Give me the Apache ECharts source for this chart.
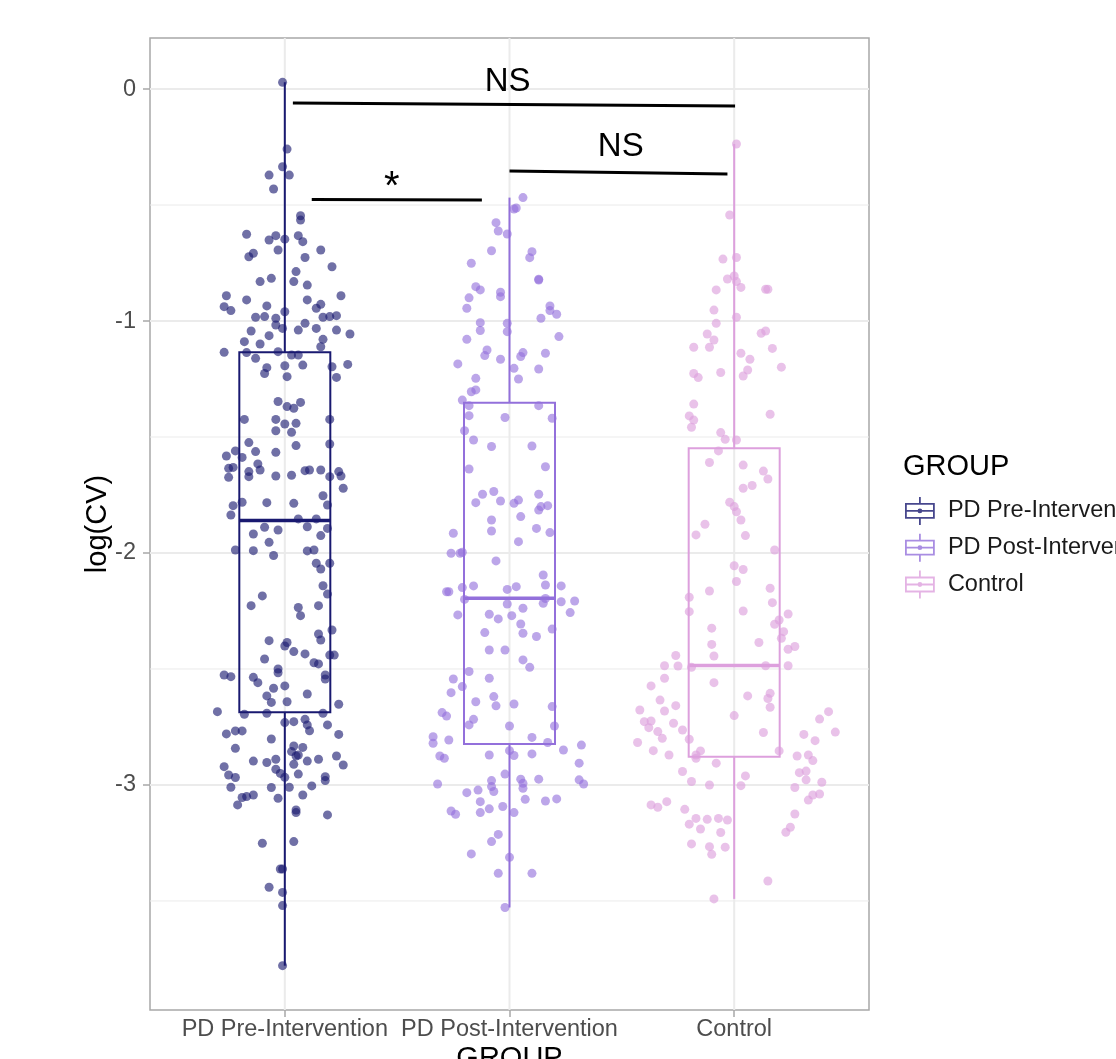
<!DOCTYPE html>
<html>
<head>
<meta charset="utf-8">
<script src="https://cdn.jsdelivr.net/npm/echarts@6/dist/echarts.min.js"></script>
<style>
html,body{margin:0;padding:0;background:#fff;}
#chart{width:1116px;height:1059px;}
</style>
</head>
<body>
<div id="chart"></div>
<script>
// ---------- DATA ----------
const categories = ['PD Pre-Intervention', 'PD Post-Intervention', 'Control'];
const yTickValues = [-3, -2, -1, 0];
const yTickLabels = ['-3', '-2', '-1', '0'];
const xTickValues = [1, 2, 3];

// box statistics: [lower whisker, Q1, median, Q3, upper whisker]
const preBox = [-3.779, -2.687, -1.860, -1.135, 0.029];
const postBox = [-3.528, -2.823, -2.195, -1.352, -0.468];
const controlBox = [-3.491, -2.878, -2.485, -1.549, -0.237];

// jittered points: [horizontal jitter (category units), log(CV)]
const prePoints = [
[-0.01,0.029],[0.01,-0.259],[-0.01,-0.335],[0.02,-0.371],[-0.07,-0.371],[-0.05,-0.431],[0.07,-0.546],[0.07,-0.565],
[-0.17,-0.626],[-0.07,-0.651],[-0.04,-0.632],[0.00,-0.647],[0.06,-0.632],[0.08,-0.658],[0.16,-0.694],[-0.16,-0.723],
[-0.14,-0.708],[-0.03,-0.694],[0.09,-0.726],[0.21,-0.766],[0.05,-0.787],[-0.06,-0.816],[-0.11,-0.830],[0.04,-0.830],
[0.10,-0.845],[-0.26,-0.891],[-0.17,-0.909],[0.25,-0.891],[0.10,-0.909],[-0.27,-0.938],[-0.24,-0.955],[-0.08,-0.935],
[0.16,-0.928],[0.14,-0.945],[0.00,-0.960],[-0.13,-0.984],[-0.09,-0.981],[-0.04,-0.988],[0.17,-0.984],[0.20,-0.981],
[0.23,-0.977],[0.09,-1.010],[-0.04,-1.017],[-0.15,-1.043],[-0.01,-1.032],[0.06,-1.039],[0.14,-1.032],[0.23,-1.039],
[0.29,-1.056],[-0.18,-1.089],[-0.07,-1.063],[-0.11,-1.099],[0.17,-1.079],[0.16,-1.111],[-0.27,-1.135],[-0.17,-1.136],
[-0.03,-1.132],[0.03,-1.147],[0.06,-1.147],[-0.13,-1.161],[-0.08,-1.201],[0.00,-1.193],[0.08,-1.190],[0.21,-1.197],
[0.28,-1.187],
[-0.09,-1.226],[0.01,-1.240],[0.23,-1.243],[-0.03,-1.347],[0.01,-1.369],[0.04,-1.376],[0.07,-1.351],[-0.18,-1.424],
[-0.04,-1.424],[0.00,-1.444],[0.05,-1.441],[-0.04,-1.473],[0.03,-1.480],[0.20,-1.424],[-0.16,-1.524],[0.05,-1.537],
[0.20,-1.530],[-0.22,-1.560],[-0.13,-1.563],[-0.04,-1.566],[-0.26,-1.582],[-0.19,-1.588],[-0.12,-1.616],[-0.25,-1.635],
[-0.23,-1.631],[-0.11,-1.642],[-0.16,-1.649],[-0.16,-1.671],[-0.25,-1.674],[-0.04,-1.668],[0.03,-1.665],[0.09,-1.645],
[0.11,-1.642],[0.16,-1.642],[0.20,-1.671],[0.24,-1.649],[0.25,-1.668],[0.26,-1.721],[0.17,-1.753],[-0.23,-1.796],
[-0.19,-1.781],[-0.08,-1.783],[0.04,-1.786],[0.19,-1.793],[-0.24,-1.836],[0.06,-1.853],[0.14,-1.853],[0.10,-1.887],
[0.19,-1.894],[-0.09,-1.889],[-0.03,-1.901],[-0.14,-1.918],[0.16,-1.925],[-0.07,-1.954],[-0.22,-1.987],[-0.14,-1.990],
[-0.05,-2.011],[0.10,-1.991],[0.13,-1.987],[0.14,-2.044],[0.16,-2.069],[0.20,-2.044],[0.17,-2.141],[0.19,-2.177],
[-0.10,-2.185],[-0.15,-2.227],[0.06,-2.235],[0.07,-2.270],[0.15,-2.227],[0.21,-2.332],[0.15,-2.349],[0.16,-2.375],
[-0.07,-2.378],[0.00,-2.401],[0.01,-2.386],[0.04,-2.425],[0.09,-2.435],[-0.09,-2.457],[0.13,-2.473],[0.15,-2.478],
[0.20,-2.440],[0.22,-2.440],[-0.03,-2.500],
[-0.27,-2.526],[-0.24,-2.533],[-0.14,-2.536],[-0.12,-2.559],[-0.03,-2.516],[0.18,-2.526],[0.18,-2.543],[0.00,-2.573],
[-0.05,-2.583],[-0.08,-2.616],[-0.06,-2.644],[0.01,-2.641],[0.10,-2.608],[0.24,-2.652],[-0.30,-2.684],[-0.18,-2.695],
[-0.08,-2.691],[0.17,-2.691],[0.00,-2.731],[0.04,-2.727],[0.09,-2.717],[0.11,-2.766],[0.10,-2.741],[0.19,-2.741],
[-0.26,-2.780],[-0.22,-2.767],[-0.19,-2.767],[0.24,-2.782],[-0.06,-2.802],[-0.22,-2.842],[0.04,-2.832],[0.08,-2.838],
[0.03,-2.856],[0.05,-2.875],[0.06,-2.871],[-0.04,-2.889],[-0.08,-2.903],[-0.14,-2.897],[0.10,-2.897],[0.15,-2.889],
[0.23,-2.875],[0.26,-2.914],[0.04,-2.911],[-0.27,-2.921],[-0.04,-2.932],[-0.25,-2.957],[-0.22,-2.968],[-0.02,-2.950],
[0.06,-2.953],[0.00,-2.967],[0.18,-2.964],[0.18,-2.981],[-0.24,-3.010],[-0.06,-3.011],[0.02,-3.010],[0.12,-3.004],
[-0.17,-3.050],[-0.14,-3.043],[-0.19,-3.054],[-0.21,-3.086],[-0.03,-3.057],[0.08,-3.043],[0.05,-3.108],[0.05,-3.119],
[0.19,-3.129],[-0.10,-3.251],[0.04,-3.244],[-0.02,-3.362],[-0.01,-3.362],[-0.07,-3.441],[-0.01,-3.463],[-0.01,-3.520],
[-0.01,-3.779]
];

const postPoints = [
[0.06,-0.468],[0.02,-0.517],[0.03,-0.513],[-0.06,-0.576],[-0.05,-0.612],[-0.01,-0.625],[-0.08,-0.697],[-0.17,-0.751],
[0.10,-0.701],[0.09,-0.727],[0.13,-0.820],[0.13,-0.823],[-0.15,-0.852],[-0.13,-0.866],[-0.18,-0.900],[-0.04,-0.876],
[-0.04,-0.895],[-0.19,-0.945],[0.18,-0.935],[0.18,-0.955],[0.21,-0.971],[0.14,-0.988],[-0.13,-1.007],[-0.13,-1.041],
[-0.01,-1.010],[-0.01,-1.046],[-0.19,-1.079],[0.22,-1.067],[-0.10,-1.125],[-0.11,-1.149],[-0.04,-1.165],[0.06,-1.136],
[0.05,-1.153],[0.16,-1.139],[-0.23,-1.185],[0.13,-1.207],[0.02,-1.204],[0.04,-1.250],[-0.15,-1.247],[-0.17,-1.305],
[-0.15,-1.297],[-0.21,-1.341],[-0.18,-1.365],[-0.18,-1.408],[0.13,-1.365],[-0.02,-1.416],[0.19,-1.419],[-0.20,-1.473],
[-0.16,-1.513],[-0.08,-1.541],[0.10,-1.539],
[-0.18,-1.638],[0.16,-1.628],[-0.12,-1.747],[-0.15,-1.783],[-0.07,-1.735],[-0.04,-1.776],[0.02,-1.786],[0.04,-1.772],
[0.13,-1.747],[0.13,-1.815],[0.14,-1.800],[0.17,-1.796],[0.05,-1.843],[-0.08,-1.858],[-0.08,-1.905],[0.12,-1.894],
[0.18,-1.912],[-0.25,-1.915],[0.04,-1.951],[-0.26,-2.001],[-0.22,-2.001],[-0.21,-1.997],[-0.06,-2.034],[0.15,-2.095],
[0.16,-2.138],[0.23,-2.142],[-0.28,-2.167],[-0.27,-2.167],[-0.21,-2.149],[-0.16,-2.142],[-0.01,-2.157],[0.03,-2.145],
[-0.20,-2.200],[0.16,-2.196],[-0.01,-2.220],[0.06,-2.238],[0.15,-2.217],[0.23,-2.210],[0.29,-2.207],[0.27,-2.257],
[-0.23,-2.267],[-0.09,-2.264],[-0.05,-2.284],[0.01,-2.270],[0.05,-2.306],[0.06,-2.346],[-0.11,-2.343],[0.12,-2.360],
[0.19,-2.328],[-0.09,-2.418],[-0.02,-2.418],[0.06,-2.461],[0.09,-2.493],[-0.18,-2.511],[-0.25,-2.543],[-0.09,-2.540],
[-0.21,-2.576],[-0.26,-2.602],[-0.15,-2.641],[-0.07,-2.619],[-0.06,-2.659],[0.02,-2.651],[0.19,-2.662],[-0.30,-2.688],
[-0.28,-2.703],[-0.16,-2.717],[-0.18,-2.741],[0.00,-2.746],[0.20,-2.746],
[-0.34,-2.792],[-0.34,-2.820],[-0.27,-2.806],[0.10,-2.795],[0.17,-2.817],[0.24,-2.849],[0.32,-2.828],[-0.31,-2.875],
[-0.29,-2.885],[-0.09,-2.871],[0.00,-2.852],[0.02,-2.873],[0.10,-2.866],[0.31,-2.906],[-0.32,-2.996],[-0.02,-2.953],
[-0.08,-2.981],[-0.08,-3.007],[-0.07,-3.028],[0.05,-2.975],[0.06,-2.993],[0.06,-3.014],[0.13,-2.975],[0.31,-2.978],
[0.33,-2.996],[-0.19,-3.033],[-0.14,-3.022],[-0.13,-3.072],[0.07,-3.062],[0.16,-3.069],[0.21,-3.060],[-0.26,-3.112],
[-0.24,-3.126],[-0.13,-3.119],[-0.09,-3.103],[-0.03,-3.093],[0.02,-3.119],[-0.05,-3.213],[-0.08,-3.244],[-0.17,-3.297],
[0.00,-3.312],[-0.05,-3.381],[0.10,-3.381],[-0.02,-3.528]
];

const controlPoints = [
[0.01,-0.237],[-0.02,-0.543],[-0.05,-0.733],[0.01,-0.726],[-0.03,-0.819],[0.00,-0.806],[0.01,-0.830],[0.03,-0.855],
[-0.08,-0.866],[0.14,-0.863],[0.15,-0.863],[-0.09,-0.953],[-0.08,-1.010],[0.01,-0.984],[-0.12,-1.056],[-0.09,-1.082],
[-0.11,-1.113],[-0.18,-1.113],[0.12,-1.053],[0.14,-1.043],[0.17,-1.118],[0.03,-1.139],[0.07,-1.165],[-0.18,-1.226],
[-0.16,-1.244],[-0.06,-1.222],[0.06,-1.211],[0.04,-1.237],[0.21,-1.199],[-0.18,-1.358],
[0.16,-1.402],[-0.20,-1.409],[-0.18,-1.427],[-0.19,-1.458],[-0.06,-1.481],[-0.04,-1.510],[0.01,-1.513],[-0.07,-1.560],
[-0.11,-1.610],[0.04,-1.621],[0.13,-1.647],[0.15,-1.681],[0.04,-1.721],[0.08,-1.709],[-0.02,-1.781],[0.00,-1.800],
[0.01,-1.822],[0.03,-1.858],[-0.13,-1.876],[-0.17,-1.922],[0.05,-1.925],[0.18,-1.987],[0.00,-2.055],[0.04,-2.071],
[0.01,-2.123],[-0.11,-2.164],[-0.20,-2.191],[0.16,-2.152],[-0.20,-2.253],[0.04,-2.250],[0.17,-2.214],[0.24,-2.263],
[0.20,-2.289],[0.18,-2.307],[-0.10,-2.324],[0.22,-2.339],[0.21,-2.368],[0.11,-2.386],[-0.10,-2.394],[-0.09,-2.444],
[-0.26,-2.442],[0.24,-2.415],[0.27,-2.403],[-0.31,-2.486],[-0.25,-2.487],[-0.19,-2.493],[0.14,-2.486],[0.24,-2.486],
[-0.31,-2.540],[-0.37,-2.573],[-0.09,-2.559],
[-0.33,-2.634],[-0.26,-2.658],[-0.42,-2.677],[-0.31,-2.681],[-0.40,-2.727],[-0.37,-2.724],[-0.38,-2.753],[-0.27,-2.734],
[-0.34,-2.770],[-0.32,-2.799],[-0.23,-2.763],[-0.43,-2.817],[-0.36,-2.852],[-0.29,-2.871],[-0.20,-2.803],[0.06,-2.616],
[0.16,-2.605],[0.15,-2.627],[0.16,-2.665],[0.00,-2.701],[0.13,-2.774],[-0.15,-2.853],[-0.17,-2.885],[-0.17,-2.871],
[-0.08,-2.906],[0.20,-2.853],[0.31,-2.782],[0.36,-2.809],[0.38,-2.716],[0.42,-2.684],[0.45,-2.772],[0.28,-2.875],
[0.33,-2.871],[0.35,-2.895],[0.29,-2.947],[0.32,-2.940],[0.32,-2.978],[0.39,-2.988],[0.27,-3.011],[0.33,-3.065],
[0.35,-3.043],[0.38,-3.039],[-0.23,-2.942],[-0.19,-2.985],[-0.11,-3.000],[0.03,-3.003],[0.05,-2.961],[-0.37,-3.086],
[-0.34,-3.096],[-0.30,-3.072],[-0.22,-3.105],[-0.17,-3.144],[-0.12,-3.148],[-0.07,-3.144],[-0.03,-3.151],[-0.20,-3.169],
[-0.15,-3.190],[-0.06,-3.205],[-0.19,-3.254],[-0.11,-3.266],[-0.10,-3.299],[-0.04,-3.268],[0.27,-3.125],[0.25,-3.182],
[0.23,-3.204],[0.15,-3.414],[-0.09,-3.491]
];

// significance brackets: [x1, y1, x2, y2] in data units, labels and label anchors
const bracketLines = [
  [1.036, -0.060, 3.004, -0.073],
  [1.120, -0.476, 1.877, -0.478],
  [2.000, -0.353, 2.970, -0.366]
];
const bracketLabels = ['NS', '*', 'NS'];
const bracketLabelAnchors = [[1.992, 0.032], [1.476, -0.425], [2.495, -0.25]];

const gridMajorY = [-3, -2, -1, 0];
const gridMinorY = [-3.5, -2.5, -1.5, -0.5];
const gridMajorX = [1, 2, 3];

// ---------- STYLE ----------
const groupColors = ['#191970', '#9370DB', '#DDA0DD'];
const pointColors = ['rgba(25,25,112,0.78)', 'rgba(147,112,219,0.78)', 'rgba(221,160,221,0.8)'];
const BOX_WIDTH = 0.405;
const FONT = '"Liberation Sans", Arial, Helvetica, sans-serif';

const chart = echarts.init(document.getElementById('chart'), null, {renderer: 'canvas'});

const pointSets = [prePoints, postPoints, controlPoints];
const boxes = [preBox, postBox, controlBox];

const legendIcon = 'path://M14,1 L14,7.5 M14,20.5 L14,27 M1,7.5 L27,7.5 L27,20.5 L1,20.5 Z M1,14 L27,14 M12.6,14 A1.4,1.4 0 1,0 15.4,14 A1.4,1.4 0 1,0 12.6,14 Z';

const series = [];

// grid lines
series.push({
  type: 'custom', silent: true, z: 0, animation: false,
  data: gridMajorY.map(v => [2, v, 1]).concat(gridMinorY.map(v => [2, v, 0])),
  encode: {x: 0, y: 1},
  renderItem: function (params, api) {
    const cs = params.coordSys;
    const y = api.coord([api.value(0), api.value(1)])[1];
    return {type: 'line', shape: {x1: cs.x, y1: y, x2: cs.x + cs.width, y2: y},
      style: {stroke: '#ebebeb', lineWidth: api.value(2) ? 2 : 1}};
  }
});
series.push({
  type: 'custom', silent: true, z: 0, animation: false,
  data: gridMajorX.map(v => [v, -2]),
  encode: {x: 0, y: 1},
  renderItem: function (params, api) {
    const cs = params.coordSys;
    const x = api.coord([api.value(0), api.value(1)])[0];
    return {type: 'line', shape: {x1: x, y1: cs.y, x2: x, y2: cs.y + cs.height},
      style: {stroke: '#ebebeb', lineWidth: 2}};
  }
});

// boxes
series.push({
  type: 'custom', name: 'boxes', silent: true, z: 2, animation: false,
  data: boxes.map((b, i) => [i + 1].concat(b)),
  encode: {x: 0, y: [1, 2, 3, 4, 5]},
  renderItem: function (params, api) {
    const c = groupColors[params.dataIndex];
    const x = api.value(0);
    const pMin = api.coord([x, api.value(1)]);
    const pQ1 = api.coord([x, api.value(2)]);
    const pMed = api.coord([x, api.value(3)]);
    const pQ3 = api.coord([x, api.value(4)]);
    const pMax = api.coord([x, api.value(5)]);
    const hw = api.size([BOX_WIDTH, 0])[0] / 2;
    const st = {stroke: c, lineWidth: 2, fill: 'none'};
    return {type: 'group', children: [
      {type: 'line', shape: {x1: pMin[0], y1: pMin[1], x2: pQ1[0], y2: pQ1[1]}, style: st},
      {type: 'line', shape: {x1: pQ3[0], y1: pQ3[1], x2: pMax[0], y2: pMax[1]}, style: st},
      {type: 'rect', shape: {x: pQ3[0] - hw, y: pQ3[1], width: 2 * hw, height: pQ1[1] - pQ3[1]}, style: st},
      {type: 'line', shape: {x1: pMed[0] - hw, y1: pMed[1], x2: pMed[0] + hw, y2: pMed[1]},
        style: {stroke: c, lineWidth: 3.4}}
    ]};
  }
});

// points
categories.forEach((name, i) => {
  series.push({
    type: 'scatter', name: name, z: 3, animation: false,
    symbolSize: 9,
    itemStyle: {color: pointColors[i]},
    data: pointSets[i].map(p => [i + 1 + p[0], p[1]])
  });
});

// significance brackets with labels
series.push({
  type: 'custom', silent: true, z: 4, animation: false,
  data: bracketLines.map((b, i) => b.concat(bracketLabelAnchors[i])),
  encode: {x: [0, 2, 4], y: [1, 3, 5]},
  renderItem: function (params, api) {
    const p1 = api.coord([api.value(0), api.value(1)]);
    const p2 = api.coord([api.value(2), api.value(3)]);
    const pl = api.coord([api.value(4), api.value(5)]);
    const txt = bracketLabels[params.dataIndex];
    return {type: 'group', children: [
      {type: 'line', shape: {x1: p1[0], y1: p1[1], x2: p2[0], y2: p2[1]},
        style: {stroke: '#000', lineWidth: 3}},
      {type: 'text', x: pl[0], y: pl[1],
        style: {text: txt, fill: '#000', fontSize: txt === '*' ? 40 : 33, fontFamily: FONT,
          align: 'center', verticalAlign: 'middle'}}
    ]};
  }
});

const option = {
  animation: false,
  backgroundColor: '#ffffff',
  textStyle: {fontFamily: FONT},
  title: {
    text: 'GROUP', left: 903, top: 452, padding: 0,
    textStyle: {fontSize: 29, fontWeight: 'normal', color: '#000', fontFamily: FONT}
  },
  legend: {
    orient: 'vertical', left: 905, top: 496, padding: 0,
    itemWidth: 28, itemHeight: 28, itemGap: 7,
    selectedMode: false,
    textStyle: {fontSize: 23.5, color: '#1a1a1a', fontFamily: FONT, padding: [0, 0, 0, 9]},
    data: categories.map((n, i) => ({
      name: n, icon: legendIcon,
      itemStyle: {color: 'rgba(0,0,0,0)', borderColor: groupColors[i], borderWidth: 1.8}
    }))
  },
  grid: {
    left: 150, top: 38, width: 719, height: 972,
    containLabel: false, outerBoundsMode: 'none',
    show: true, borderColor: '#a8a8a8', borderWidth: 1.5, backgroundColor: '#fff'
  },
  xAxis: {
    type: 'value', min: 0.4, max: 3.6,
    axisLine: {show: false, onZero: false},
    splitLine: {show: false},
    axisTick: {show: true, customValues: xTickValues, length: 7, lineStyle: {color: '#a8a8a8', width: 1.5}},
    axisLabel: {
      customValues: xTickValues, margin: 8, fontSize: 23.5, color: '#4d4d4d', fontFamily: FONT,
      formatter: v => categories[Math.round(v) - 1]
    },
    name: 'GROUP', nameLocation: 'middle', nameGap: 34, nameMoveOverlap: false,
    nameTextStyle: {fontSize: 29, color: '#000', fontFamily: FONT}
  },
  yAxis: {
    type: 'value', min: -3.97, max: 0.22,
    axisLine: {show: false, onZero: false},
    splitLine: {show: false},
    axisTick: {show: true, customValues: yTickValues, length: 7, lineStyle: {color: '#a8a8a8', width: 1.5}},
    axisLabel: {
      customValues: yTickValues, margin: 14, fontSize: 23.5, color: '#4d4d4d', fontFamily: FONT,
      formatter: v => yTickLabels[yTickValues.indexOf(Math.round(v))]
    },
    name: 'log(CV)', nameLocation: 'middle', nameRotate: 90, nameGap: 38, nameMoveOverlap: false,
    nameTextStyle: {fontSize: 29, color: '#000', fontFamily: FONT}
  },
  series: series
};
chart.setOption(option);
</script>
</body>
</html>
